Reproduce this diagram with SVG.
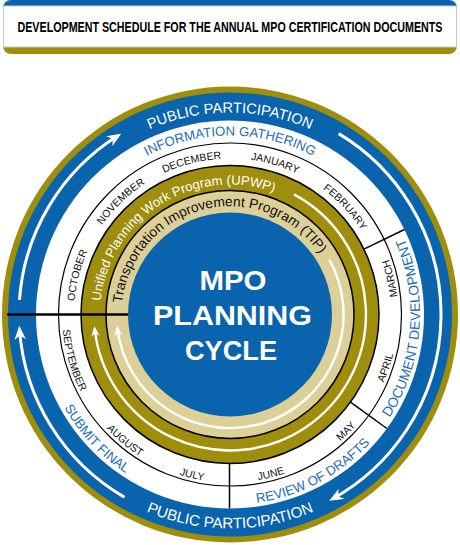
<svg xmlns="http://www.w3.org/2000/svg" width="460" height="545" viewBox="0 0 460 545">
<style>
  .t{font-family:"Liberation Sans",Arial,sans-serif}
  .pp{fill:#fff;font-size:14.6px}
  .ph{fill:#1c6db6;font-size:13.2px}
  .mo{fill:#111;font-size:10.5px}
  .dv{stroke:#000;stroke-width:1.5;fill:none}
  .wa{stroke:#fff;fill:none;stroke-width:3}
  .wi{stroke:#fff;fill:none;stroke-width:2.4}
</style>
<defs>
  <marker id="ah" viewBox="0 0 12 10" refX="9" refY="5" markerWidth="14" markerHeight="12" markerUnits="userSpaceOnUse" orient="auto"><path d="M0,0 L12,5 L0,10 L3.5,5 Z" fill="#fff"/></marker>
  <marker id="ahs" viewBox="0 0 12 10" refX="9" refY="5" markerWidth="10" markerHeight="9" markerUnits="userSpaceOnUse" orient="auto"><path d="M0,0 L12,5 L0,10 L3.5,5 Z" fill="#fff"/></marker>
  <path id="pTop" d="M55.1,213.5 A202,202 0 0 1 404.9,213.5"/>
  <path id="pBot" d="M44.7,421.5 A214,214 0 0 0 415.3,421.5"/>
  <path id="pInfo" d="M75,225 A179,179 0 0 1 385,225"/>
  <path id="pDoc" d="M311.5,486.1 A190,190 0 0 0 337.9,158.1"/>
  <path id="pRev" d="M128.7,475.3 A190,190 0 0 0 419.9,321.8"/>
  <path id="pSub" d="M48.3,258.9 A190,190 0 0 0 272.7,499.6"/>
  <path id="pUpwp" d="M100.1,319.5 A130,130 0 0 1 290.6,199.5"/>
  <path id="pTip" d="M121.8,322.1 A108.5,108.5 0 0 1 329.1,270.4"/>
  <path id="mOct" d="M89.3,381.9 A156,156 0 0 1 139.2,187.7"/>
  <path id="mNov" d="M74.9,298.2 A156,156 0 0 1 219.1,158.9"/>
  <path id="mDec" d="M103.6,223 A156,156 0 0 1 298.1,174.2"/>
  <path id="mJan" d="M168.1,171.3 A156,156 0 0 1 360.2,228.6"/>
  <path id="mFeb" d="M249,159.7 A156,156 0 0 1 385.8,306.3"/>
  <path id="mMar" d="M379.2,391.8 A168,168 0 0 0 332,181"/>
  <path id="mApr" d="M317,458.2 A168,168 0 0 0 386.6,253.8"/>
  <path id="mMay" d="M244.1,481.9 A168,168 0 0 0 397.3,329.7"/>
  <path id="mJun" d="M157.4,466 A168,168 0 0 0 366.6,412.3"/>
  <path id="mJul" d="M95.3,414.9 A168,168 0 0 0 305.5,464.6"/>
  <path id="mAug" d="M64.7,344.3 A168,168 0 0 0 230.6,482.5"/>
  <path id="mSep" d="M76.2,247 A168,168 0 0 0 136.8,454.3"/>
</defs>

<g id="title">
  <rect x="3" y="0" width="454" height="30" rx="8" fill="#0a64ad"/>
  <rect x="3" y="24" width="454" height="30" rx="8" fill="#9f8d0c"/>
  <rect x="3.5" y="6" width="453" height="41" fill="#fff" stroke="#c8c8c8" stroke-width="1"/>
  <text class="t" x="230" y="31.5" text-anchor="middle" font-size="15.5" font-weight="bold" fill="#000" textLength="425" lengthAdjust="spacingAndGlyphs">DEVELOPMENT SCHEDULE FOR THE ANNUAL MPO CERTIFICATION DOCUMENTS</text>
</g>

<g id="rings">
  <circle cx="230" cy="314.5" r="228" fill="#9f8d0c"/>
  <circle cx="230" cy="314.5" r="222" fill="#0a64ad"/>
  <circle cx="230" cy="314.5" r="194" fill="#fff"/>
  <circle cx="230" cy="314.5" r="171.5" fill="none" stroke="#000" stroke-width="1.2"/>
  <circle cx="230" cy="314.5" r="149" fill="#9f8d0c" stroke="#000" stroke-width="1.5"/>
  <circle cx="230" cy="314.5" r="124" fill="#dccf98" stroke="#000" stroke-width="1.5"/>
  <circle cx="230" cy="314.5" r="102" fill="#0a64ad"/>
</g>

<g id="connectors">
  <path class="wa" d="M19.5,299.8 A211,211 0 0 1 118.2,135.6" marker-end="url(#ah)"/>
  <path class="wa" d="M338.7,133.6 A211,211 0 0 1 332.3,499" marker-end="url(#ah)"/>
  <path class="wa" d="M124.5,497.2 A211,211 0 0 1 19.5,329.2" marker-end="url(#ah)"/>
  <path class="wi" d="M293.9,194.4 A136,136 0 1 1 94.7,328.7" marker-end="url(#ahs)"/>
  <path class="wi" d="M329.3,259.5 A113.5,113.5 0 1 1 117.4,328.3" marker-end="url(#ahs)"/>
  <path d="M7,314.5 H128" stroke="#000" stroke-width="2.6"/>
  <path class="dv" d="M363.9,249.2 L404.4,229.5"/>
  <path class="dv" d="M350.5,402.1 L386.9,428.5"/>
  <path class="dv" d="M229.5,463.5 V508.5"/>
</g>

<g id="participation">
  <text class="t pp"><textPath href="#pTop" startOffset="50%" text-anchor="middle">PUBLIC PARTICIPATION</textPath></text>
  <text class="t pp" style="font-size:15.2px"><textPath href="#pBot" startOffset="50%" text-anchor="middle">PUBLIC PARTICIPATION</textPath></text>
</g>

<g id="phases">
  <text class="t ph"><textPath href="#pInfo" startOffset="50%" text-anchor="middle">INFORMATION GATHERING</textPath></text>
  <text class="t ph" style="font-size:13.8px"><textPath href="#pDoc" startOffset="50%" text-anchor="middle">DOCUMENT DEVELOPMENT</textPath></text>
  <text class="t ph"><textPath href="#pRev" startOffset="50%" text-anchor="middle">REVIEW OF DRAFTS</textPath></text>
  <text class="t ph"><textPath href="#pSub" startOffset="50%" text-anchor="middle">SUBMIT FINAL</textPath></text>
</g>

<g id="months">
  <text class="t mo"><textPath href="#mOct" startOffset="50%" text-anchor="middle">OCTOBER</textPath></text>
  <text class="t mo"><textPath href="#mNov" startOffset="50%" text-anchor="middle">NOVEMBER</textPath></text>
  <text class="t mo"><textPath href="#mDec" startOffset="50%" text-anchor="middle">DECEMBER</textPath></text>
  <text class="t mo"><textPath href="#mJan" startOffset="50%" text-anchor="middle">JANUARY</textPath></text>
  <text class="t mo"><textPath href="#mFeb" startOffset="50%" text-anchor="middle">FEBRUARY</textPath></text>
  <text class="t mo"><textPath href="#mMar" startOffset="50%" text-anchor="middle">MARCH</textPath></text>
  <text class="t mo"><textPath href="#mApr" startOffset="50%" text-anchor="middle">APRIL</textPath></text>
  <text class="t mo"><textPath href="#mMay" startOffset="50%" text-anchor="middle">MAY</textPath></text>
  <text class="t mo"><textPath href="#mJun" startOffset="50%" text-anchor="middle">JUNE</textPath></text>
  <text class="t mo"><textPath href="#mJul" startOffset="50%" text-anchor="middle">JULY</textPath></text>
  <text class="t mo"><textPath href="#mAug" startOffset="50%" text-anchor="middle">AUGUST</textPath></text>
  <text class="t mo"><textPath href="#mSep" startOffset="50%" text-anchor="middle">SEPTEMBER</textPath></text>
</g>

<g id="programs">
  <text class="t" font-size="13.1" fill="#fff"><textPath href="#pUpwp" startOffset="50%" text-anchor="middle">Unified Planning Work Program (UPWP)</textPath></text>
  <text class="t" font-size="13.8" fill="#111"><textPath href="#pTip" startOffset="50%" text-anchor="middle">Transportation Improvement Program (TIP)</textPath></text>
</g>

<g id="center">
  <text class="t" x="233" y="290" text-anchor="middle" font-size="28" font-weight="bold" fill="#fff" textLength="67" lengthAdjust="spacingAndGlyphs">MPO</text>
  <text class="t" x="232.5" y="325" text-anchor="middle" font-size="28" font-weight="bold" fill="#fff" textLength="159" lengthAdjust="spacingAndGlyphs">PLANNING</text>
  <text class="t" x="231" y="360" text-anchor="middle" font-size="28" font-weight="bold" fill="#fff" textLength="92" lengthAdjust="spacingAndGlyphs">CYCLE</text>
</g>
</svg>
